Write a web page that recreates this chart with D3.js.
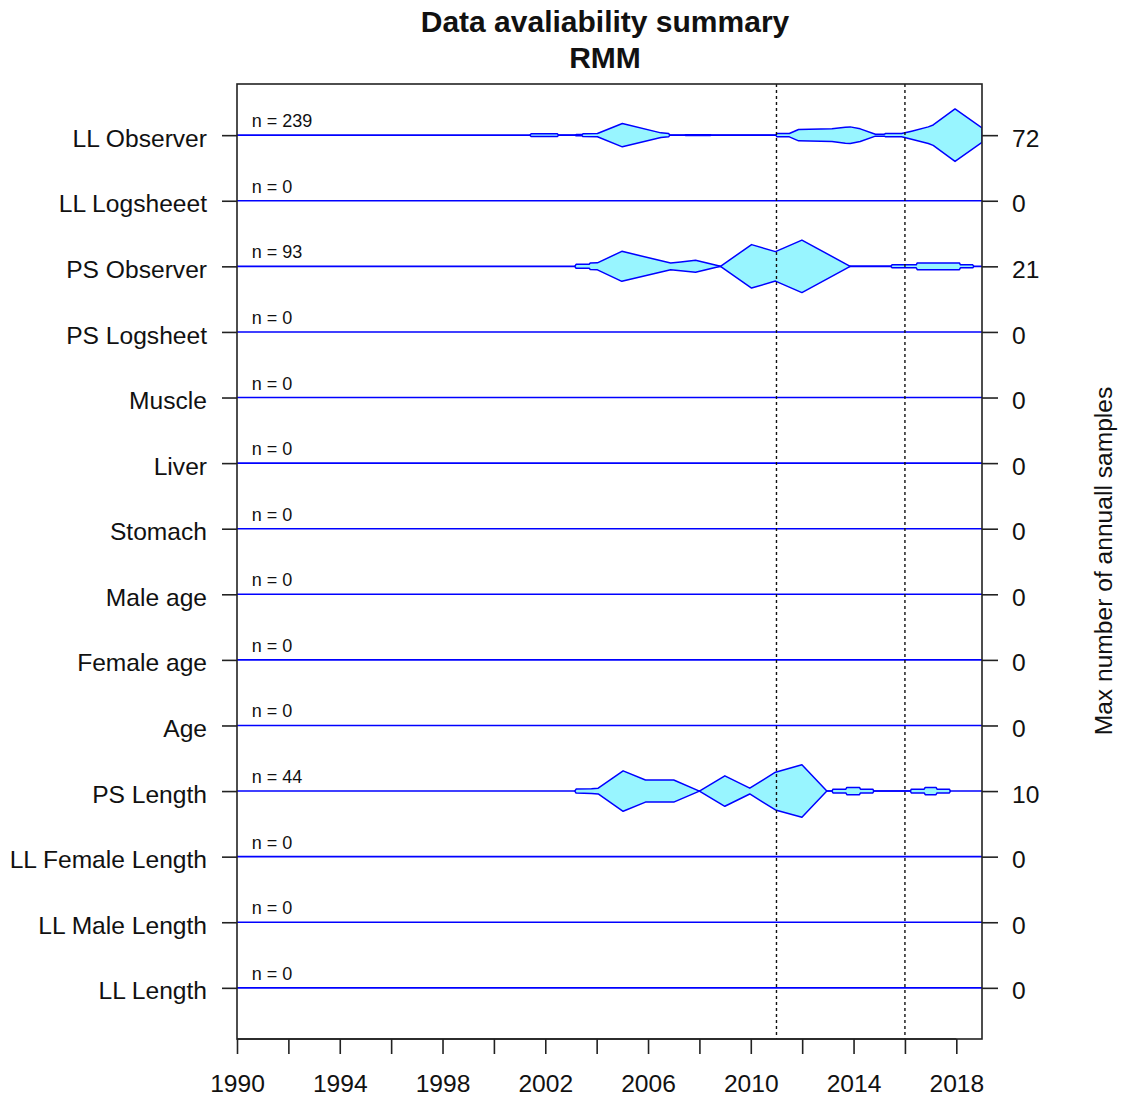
<!DOCTYPE html>
<html>
<head>
<meta charset="utf-8">
<script src="https://cdn.jsdelivr.net/npm/d3@7"></script>
<style>
  body { margin: 0; background: #fff; }
  svg text { font-family: "Liberation Sans", Arial, sans-serif; fill: #111; }
</style>
</head>
<body>
<div id="plot"></div>
<script>
// row labels, totals and per-row max annual samples
const rowLabels = ["LL Observer", "LL Logsheeet", "PS Observer", "PS Logsheet", "Muscle", "Liver",
  "Stomach", "Male age", "Female age", "Age", "PS Length", "LL Female Length", "LL Male Length", "LL Length"];
const rowTotals = [239, 0, 93, 0, 0, 0, 0, 0, 0, 0, 44, 0, 0, 0];
const rowMax = [72, 0, 21, 0, 0, 0, 0, 0, 0, 0, 10, 0, 0, 0];

// outline of annual samples (year, samples)
const llObsYears = [2001.4, 2001.45, 2002.47, 2002.52, 2003.15, 2003.2, 2003.43, 2003.47, 2004.03, 2005.0,
  2006.5, 2006.8, 2006.85, 2007.42, 2007.47, 2008.42, 2008.47, 2010.97, 2011.02, 2011.5, 2011.86,
  2013.16, 2013.68, 2013.87, 2014.26, 2014.85, 2015.2, 2015.25, 2015.87, 2016.26, 2016.91, 2017.1, 2017.95, 2019];
const llObsCounts = [0, 3.6, 3.6, 0, 0, 1.5, 1.5, 4, 4.5, 32,
  6.3, 4.6, 0, 0, 1.2, 1.2, 0, 0, 4.6, 4.6, 15.6,
  17.3, 21.9, 22.7, 17.3, 2.7, 2.7, 4.6, 4.6, 11, 22.7, 28, 72, 20];

const psObsYears = [2003.15, 2003.2, 2003.71, 2003.75, 2004.03, 2004.98, 2006.88, 2007.27, 2007.85, 2008.82,
  2010.03, 2010.96, 2011.99, 2013.87, 2015.45, 2015.5, 2016.44, 2016.48, 2018.12, 2018.16, 2018.64, 2018.68];
const psObsCounts = [0, 1.6, 1.6, 2.6, 2.8, 12, 2.7, 3.5, 4.8, 0,
  17.4, 11.8, 21, 0, 0, 1.2, 1.2, 2.7, 2.7, 1.2, 1.2, 0];

const psLenYears = [2003.15, 2003.2, 2003.8, 2004.06, 2005.03, 2005.9, 2007.0, 2008.0, 2008.99, 2009.96,
  2010.96, 2011.99, 2012.96, 2013.16, 2013.2, 2013.7, 2013.74, 2014.23, 2014.27, 2014.75, 2014.79,
  2016.21, 2016.25, 2016.75, 2016.79, 2017.21, 2017.25, 2017.73, 2017.77];
const psLenCounts = [0, 0.76, 0.9, 1.1, 7.7, 4.2, 4.2, 0, 5.8, 1.1,
  7.2, 10, 0, 0, 0.7, 0.7, 1.4, 1.4, 0.7, 0.7, 0,
  0, 0.7, 0.7, 1.4, 1.4, 0.7, 0.7, 0];

const shapes = [
  { row: 0, years: llObsYears, counts: llObsCounts },
  { row: 2, years: psObsYears, counts: psObsCounts },
  { row: 10, years: psLenYears, counts: psLenCounts }
];

const yearTicks = d3.range(1990, 2019, 2);
const markYears = [2011, 2016];

const width = 1121, height = 1101;
const svg = d3.select("#plot").append("svg")
  .attr("width", width)
  .attr("height", height);

const x = d3.scaleLinear().domain([1990, 2019]).range([237, 982]);
const y = d3.scaleLinear().domain([-0.78, 13.78]).range([84, 1039]);
const step = y(1) - y(0);

svg.append("clipPath").attr("id", "clip")
  .append("rect")
  .attr("x", x.range()[0]).attr("y", y.range()[0])
  .attr("width", x.range()[1] - x.range()[0])
  .attr("height", y.range()[1] - y.range()[0]);

// row base lines
svg.append("g").selectAll("line")
  .data(rowLabels)
  .enter().append("line")
  .attr("x1", x(1990)).attr("x2", x(2019))
  .attr("y1", (d, i) => y(i)).attr("y2", (d, i) => y(i))
  .attr("stroke", "#0000ff")
  .attr("stroke-width", 1.6);

// shapes
const plotG = svg.append("g").attr("clip-path", "url(#clip)");
shapes.forEach(s => {
  const w = d3.scaleLinear().domain([0, rowMax[s.row]]).range([0, 0.4 * step]);
  const pts = s.years.map((yr, i) => ({ yr: yr, c: s.counts[i] }));
  const area = d3.area()
    .x(d => x(d.yr))
    .y0(d => y(s.row) + w(d.c))
    .y1(d => y(s.row) - w(d.c));
  plotG.append("path")
    .datum(pts)
    .attr("d", area)
    .attr("fill", "#98F5FF")
    .attr("stroke", "#0000ff")
    .attr("stroke-width", 1.5)
    .attr("stroke-linejoin", "round");
});

// dotted year markers
svg.append("g").selectAll("line")
  .data(markYears)
  .enter().append("line")
  .attr("x1", d => x(d)).attr("x2", d => x(d))
  .attr("y1", y.range()[0]).attr("y2", y.range()[1])
  .attr("stroke", "#111")
  .attr("stroke-width", 1.4)
  .attr("stroke-dasharray", "3,3");

// n labels
svg.append("g").selectAll("text")
  .data(rowTotals)
  .enter().append("text")
  .attr("x", x(1990.57))
  .attr("y", (d, i) => y(i) - 8)
  .style("font-size", "18px")
  .text(d => "n = " + d);

// box
svg.append("rect")
  .attr("x", x.range()[0]).attr("y", y.range()[0])
  .attr("width", x.range()[1] - x.range()[0])
  .attr("height", y.range()[1] - y.range()[0])
  .attr("fill", "none")
  .attr("stroke", "#222")
  .attr("stroke-width", 1.6);

// left axis
const left = svg.append("g")
  .attr("transform", "translate(" + x.range()[0] + ",0)")
  .call(d3.axisLeft(y).tickValues(d3.range(rowLabels.length))
    .tickSize(15).tickPadding(15).tickFormat(i => rowLabels[i]));
left.select(".domain").remove();
left.selectAll("line").attr("stroke", "#222").attr("stroke-width", 1.6);
left.selectAll("text").style("font-size", "24.6px").attr("dy", "0.45em").attr("fill", "#111");

// right axis
const right = svg.append("g")
  .attr("transform", "translate(" + x.range()[1] + ",0)")
  .call(d3.axisRight(y).tickValues(d3.range(rowLabels.length))
    .tickSize(16).tickPadding(14).tickFormat(i => rowMax[i]));
right.select(".domain").remove();
right.selectAll("line").attr("stroke", "#222").attr("stroke-width", 1.6);
right.selectAll("text").style("font-size", "24.6px").attr("dy", "0.45em").attr("fill", "#111");

// bottom axis
const bottom = svg.append("g")
  .attr("transform", "translate(0," + y.range()[1] + ")")
  .call(d3.axisBottom(x).tickValues(yearTicks).tickSize(15).tickPadding(21)
    .tickFormat(d => (d - 1990) % 4 === 0 ? d : ""));
bottom.select(".domain").remove();
bottom.append("line")
  .attr("x1", x(1990)).attr("x2", x(2018))
  .attr("stroke", "#222").attr("stroke-width", 1.6);
bottom.selectAll("line").attr("stroke", "#222").attr("stroke-width", 1.6);
bottom.selectAll("text").style("font-size", "24.6px").attr("fill", "#111");

// right axis title
svg.append("text")
  .attr("transform", "translate(1112,561) rotate(-90)")
  .style("text-anchor", "middle")
  .style("font-size", "24.6px")
  .text("Max number of annuall samples");

// title
svg.append("text")
  .attr("x", 605).attr("y", 32)
  .style("text-anchor", "middle")
  .style("font-size", "30px")
  .style("font-weight", "bold")
  .text("Data avaliability summary");
svg.append("text")
  .attr("x", 605).attr("y", 68)
  .style("text-anchor", "middle")
  .style("font-size", "30px")
  .style("font-weight", "bold")
  .text("RMM");
</script>
</body>
</html>
